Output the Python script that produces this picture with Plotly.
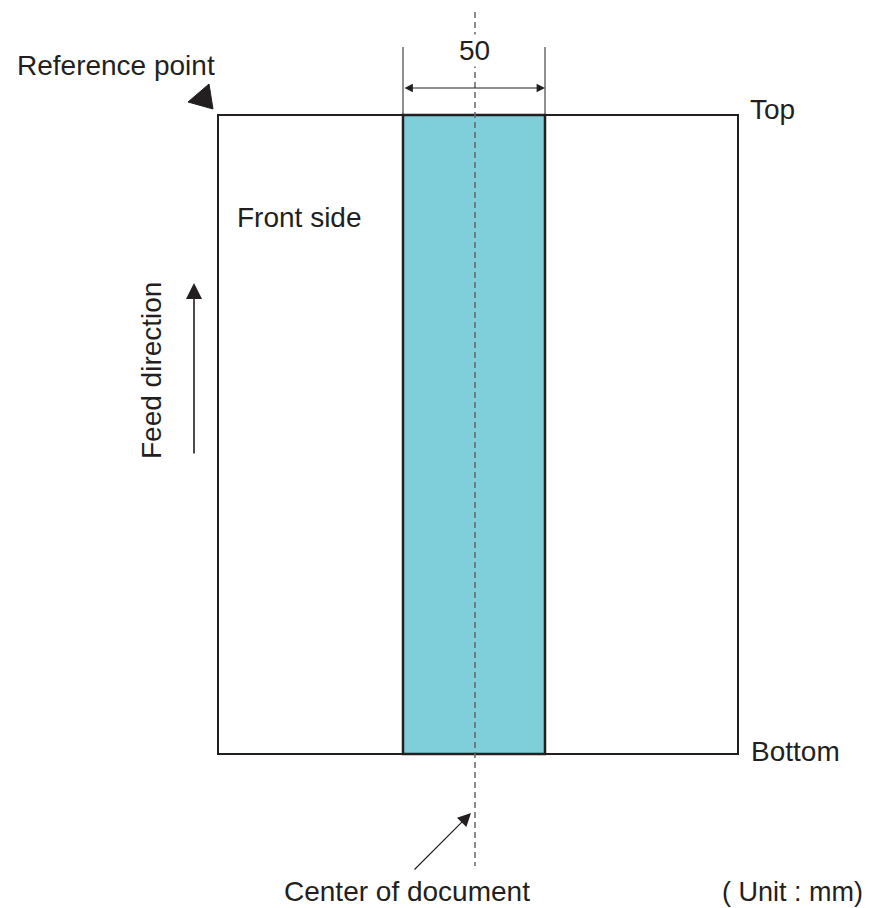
import plotly.graph_objects as go

# texts
labels = ["Reference point", "Front side", "Feed direction", "Top", "Bottom",
          "Center of document", "( Unit : mm)"]
width_value = 50

# geometry in pixel units of the drawing (y grows downward)
page_x = [218, 738]
page_y = [115, 754]
band_x = [403, 545]
center_x = 475

FONT = "Liberation Sans, Arial, sans-serif"
INK = "#231f20"
PAD = 8  # the page body keeps an 8px margin

fig = go.Figure()

# page outline
fig.add_shape(type="rect", x0=page_x[0], x1=page_x[1], y0=page_y[0], y1=page_y[1],
              line=dict(color=INK, width=2), fillcolor="white", layer="below")
# blue band
fig.add_shape(type="rect", x0=band_x[0], x1=band_x[1], y0=page_y[0], y1=page_y[1],
              line=dict(color=INK, width=2.5), fillcolor="#7fcfdb")
# center line
fig.add_shape(type="line", x0=center_x, x1=center_x, y0=12, y1=866,
              line=dict(color="#666666", width=1.5, dash="6px,4px"))
# dimension extension lines
for bx in band_x:
    fig.add_shape(type="line", x0=bx, x1=bx, y0=47, y1=page_y[0],
                  line=dict(color=INK, width=1))

# reference point marker
fig.add_trace(go.Scatter(x=[209, 188, 213, 209], y=[84, 102, 109, 84], mode="lines",
                         fill="toself", fillcolor=INK, line=dict(color=INK, width=1),
                         hoverinfo="skip", showlegend=False))

# dimension arrow
fig.add_annotation(x=band_x[1], y=88, ax=band_x[0], ay=88, xref="x", yref="y",
                   axref="x", ayref="y", text="", showarrow=True, arrowhead=2,
                   startarrowhead=2, arrowside="end+start", arrowsize=1.4,
                   startarrowsize=1.4, arrowwidth=1.2, arrowcolor=INK)
# feed direction arrow
fig.add_annotation(x=194, y=283, ax=194, ay=455, xref="x", yref="y",
                   axref="x", ayref="y", text="", showarrow=True, arrowhead=2,
                   arrowsize=2, arrowwidth=1.6, arrowcolor=INK)
# center pointer
fig.add_annotation(x=471, y=813, ax=413, ay=871, xref="x", yref="y",
                   axref="x", ayref="y", text="", showarrow=True, arrowhead=2,
                   arrowsize=2.2, arrowwidth=1.2, arrowcolor=INK)

def txt(x, y, s, anchor="left", angle=0, bg=None, size=28):
    fig.add_annotation(x=x, y=y, xref="x", yref="y", text=s, showarrow=False,
                       xanchor=anchor, yanchor="middle", textangle=angle,
                       bgcolor=bg, borderpad=0,
                       font=dict(family=FONT, size=size, color=INK))

txt(16, 65, labels[0])
txt(236, 217, labels[1])
txt(151, 371, labels[2], anchor="center", angle=-90)
txt(749, 109, labels[3])
txt(750, 751, labels[4])
txt(407, 891, labels[5], anchor="center")
txt(864, 892, labels[6], anchor="right", size=27)
txt(474, 50, str(width_value), anchor="center", bg="white")

fig.update_layout(
    width=873 - PAD, height=908 - PAD,
    margin=dict(l=0, r=0, t=0, b=0),
    plot_bgcolor="white", paper_bgcolor="white",
    xaxis=dict(range=[PAD, 873], visible=False, fixedrange=True),
    yaxis=dict(range=[908, PAD], visible=False, fixedrange=True),
    showlegend=False,
)

fig.write_html("out.html")
